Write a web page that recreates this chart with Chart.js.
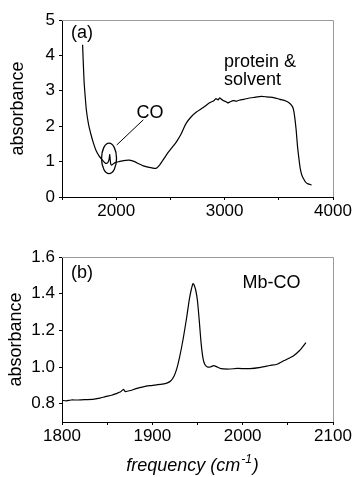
<!DOCTYPE html>
<html>
<head>
<meta charset="utf-8">
<script src="https://cdn.jsdelivr.net/npm/chart.js@4/dist/chart.umd.min.js"></script>
<style>
  html, body { margin: 0; padding: 0; background: #fff; }
  #wrap { position: relative; width: 355px; height: 477px; }
  canvas { position: absolute; left: 0; }
  #ca { top: 0; }
  #cb { top: 240px; }
</style>
</head>
<body>
<div id="wrap">
  <canvas id="ca" width="355" height="240"></canvas>
  <canvas id="cb" width="355" height="237"></canvas>
</div>
<script>
// ---------- Panel (a): full spectrum ----------
const freqA = [1690, 1695, 1704, 1715, 1725, 1745, 1766, 1790, 1812, 1840, 1873, 1895, 1910, 1925, 1935, 1940, 1945, 1950, 1958, 1966, 1990, 2028, 2070, 2120, 2170, 2213, 2250, 2275, 2320, 2368, 2400, 2429, 2470, 2521, 2560, 2599, 2620, 2645, 2690, 2740, 2800, 2861, 2900, 2920, 2940, 2954, 2970, 2990, 3010, 3030, 3046, 3080, 3110, 3139, 3180, 3220, 3262, 3300, 3340, 3386, 3420, 3460, 3509, 3550, 3580, 3602, 3620, 3633, 3645, 3660, 3672, 3685, 3698, 3712, 3727, 3745, 3770, 3803];
const absA  = [4.3, 3.9, 3.25, 2.8, 2.45, 2.05, 1.78, 1.52, 1.33, 1.17, 1.04, 0.97, 0.95, 0.98, 1.08, 1.2, 1.05, 0.93, 0.9, 0.92, 0.97, 1.0, 1.03, 1.04, 1.0, 0.93, 0.88, 0.86, 0.83, 0.81, 0.9, 1.03, 1.22, 1.42, 1.58, 1.78, 1.92, 2.08, 2.26, 2.4, 2.52, 2.66, 2.72, 2.78, 2.74, 2.8, 2.76, 2.72, 2.7, 2.66, 2.68, 2.72, 2.71, 2.74, 2.76, 2.79, 2.81, 2.83, 2.84, 2.83, 2.82, 2.8, 2.76, 2.73, 2.69, 2.64, 2.58, 2.5, 2.3, 1.9, 1.45, 1.1, 0.8, 0.62, 0.52, 0.43, 0.37, 0.34];
const xTicksA = [1500, 2000, 2500, 3000, 3500, 4000];
const xLabelsA = ['', '2000', '', '3000', '', '4000'];
const yTicksA = [0, 1, 2, 3, 4, 5];

// ---------- Panel (b): Mb-CO band ----------
const freqB = [1800, 1805, 1810, 1816, 1825, 1834, 1842, 1848, 1855, 1860, 1865, 1868, 1870, 1876, 1882, 1890, 1897, 1905, 1911, 1916, 1920, 1924, 1927, 1930, 1934, 1938, 1941, 1943, 1945, 1946, 1948, 1950, 1952, 1954, 1956, 1958, 1961, 1964, 1968, 1971, 1976, 1985, 1994, 2008, 2020, 2030, 2038, 2046, 2056, 2063, 2070];
const absB  = [0.818, 0.815, 0.82, 0.82, 0.822, 0.823, 0.83, 0.838, 0.846, 0.855, 0.865, 0.878, 0.866, 0.872, 0.882, 0.892, 0.898, 0.903, 0.907, 0.912, 0.922, 0.95, 0.99, 1.05, 1.15, 1.27, 1.37, 1.42, 1.455, 1.45, 1.42, 1.36, 1.25, 1.13, 1.05, 1.015, 1.0, 1.0, 1.008, 1.002, 0.991, 0.989, 0.992, 0.991, 0.998, 1.008, 1.015, 1.035, 1.06, 1.09, 1.133];
const xTicksB = [1800, 1850, 1900, 1950, 2000, 2050, 2100];
const xLabelsB = ['1800', '', '1900', '', '2000', '', '2100'];
const yTicksB = [0.8, 1.0, 1.2, 1.4, 1.6];

// ---------- Annotations (text in data coordinates) ----------
const notesA = [
  { text: '(a)', x: 1583, y: 4.62, align: 'left' },
  { text: 'protein &', x: 2995, y: 3.82, align: 'left' },
  { text: 'solvent', x: 2995, y: 3.31, align: 'left' },
  { text: 'CO', x: 2312, y: 2.37, align: 'center' }
];
const notesB = [
  { text: '(b)', x: 1810, y: 1.514, align: 'left' },
  { text: 'Mb-CO', x: 2032, y: 1.458, align: 'center' }
];
const coEllipse = { x: 1934, y: 1.09, rx: 69, ry: 0.43 };
const coPointer = { x1: 2005, y1: 1.47, x2: 2250, y2: 2.18 };
const xTitleParts = ['frequency (cm', '-1', ')'];

const FONT = "'Liberation Sans', Arial, Helvetica, sans-serif";

const deco = {
  id: 'deco',
  afterDatasetsDraw(chart, args, opts) {
    const { ctx, chartArea: a, scales: { x, y } } = chart;
    ctx.save();
    // light top/right frame
    ctx.strokeStyle = '#9a9a9a';
    ctx.lineWidth = 1;
    ctx.beginPath();
    ctx.moveTo(a.left, Math.round(a.top) + 0.5);
    ctx.lineTo(Math.round(a.right) + 0.5, Math.round(a.top) + 0.5);
    ctx.lineTo(Math.round(a.right) + 0.5, a.bottom);
    ctx.stroke();
    // texts
    ctx.fillStyle = '#000';
    ctx.font = '18px ' + FONT;
    ctx.textBaseline = 'middle';
    (opts.notes || []).forEach(n => {
      ctx.textAlign = n.align;
      ctx.fillText(n.text, x.getPixelForValue(n.x), y.getPixelForValue(n.y));
    });
    if (opts.ellipse) {
      const e = opts.ellipse;
      const cx = x.getPixelForValue(e.x), cy = y.getPixelForValue(e.y);
      const rx = Math.abs(x.getPixelForValue(e.x + e.rx) - cx);
      const ry = Math.abs(y.getPixelForValue(e.y + e.ry) - cy);
      ctx.strokeStyle = '#000';
      ctx.lineWidth = 1.3;
      ctx.beginPath();
      ctx.ellipse(cx, cy, rx, ry, 0, 0, Math.PI * 2);
      ctx.stroke();
    }
    if (opts.pointer) {
      const p = opts.pointer;
      ctx.strokeStyle = '#000';
      ctx.lineWidth = 1;
      ctx.beginPath();
      ctx.moveTo(x.getPixelForValue(p.x1), y.getPixelForValue(p.y1));
      ctx.lineTo(x.getPixelForValue(p.x2), y.getPixelForValue(p.y2));
      ctx.stroke();
    }
    if (opts.xTitle) {
      const [main, sup, tail] = opts.xTitle;
      const big = 'italic 18px ' + FONT, small = 'italic 12px ' + FONT;
      ctx.font = big; const w1 = ctx.measureText(main).width, w3 = ctx.measureText(tail).width;
      ctx.font = small; const w2 = ctx.measureText(sup).width;
      const total = w1 + w2 + 2 + w3;
      let cx = (a.left + a.right) / 2 - 5 - total / 2;
      const cy = x.bottom - 11;
      ctx.textAlign = 'left';
      ctx.textBaseline = 'middle';
      ctx.font = big; ctx.fillText(main, cx, cy); cx += w1 + 1;
      ctx.font = small; ctx.fillText(sup, cx, cy - 6); cx += w2 + 1;
      ctx.font = big; ctx.fillText(tail, cx, cy);
    }
    ctx.restore();
  }
};

function makeChart(id, freq, abs, cfg) {
  const pts = freq.map((f, i) => ({ x: f, y: abs[i] }));
  return new Chart(document.getElementById(id), {
    type: 'scatter',
    data: {
      datasets: [{
        data: pts,
        showLine: true,
        borderColor: '#000',
        borderWidth: 1.2,
        pointRadius: 0,
        tension: 0.2
      }]
    },
    options: {
      responsive: false,
      animation: false,
      devicePixelRatio: 1,
      layout: { padding: { left: 0, right: 22, top: cfg.top, bottom: 0 } },
      plugins: {
        legend: { display: false },
        tooltip: { enabled: false },
        deco: cfg.deco
      },
      scales: {
        x: {
          type: 'linear',
          min: cfg.xmin, max: cfg.xmax,
          afterBuildTicks: s => { s.ticks = cfg.xTicks.map(v => ({ value: v })); },
          afterFit: s => { s.height = cfg.xh; },
          ticks: {
            color: '#000',
            font: { family: FONT, size: 17 },
            padding: 1,
            maxRotation: 0,
            autoSkip: false,
            callback: (v, i) => cfg.xLabels[cfg.xTicks.indexOf(v)] ?? ''
          },
          grid: { drawOnChartArea: false, drawTicks: true, tickLength: 3, color: '#000' },
          border: { display: true, color: '#000', width: 1 },
          title: { display: false }
        },
        y: {
          type: 'linear',
          min: cfg.ymin, max: cfg.ymax,
          afterBuildTicks: s => { s.ticks = cfg.yTicks.map(v => ({ value: v })); },
          afterFit: s => { s.width = 62; },
          ticks: {
            color: '#000',
            font: { family: FONT, size: 17 },
            padding: 4,
            autoSkip: false,
            callback: v => cfg.yFmt(v)
          },
          grid: { drawOnChartArea: false, drawTicks: true, tickLength: 3, color: '#000' },
          border: { display: true, color: '#000', width: 1 },
          title: {
            display: true,
            text: 'absorbance',
            color: '#000',
            font: { family: FONT, size: 18 },
            padding: { top: cfg.ytPad, bottom: 0 }
          }
        }
      }
    },
    plugins: [deco]
  });
}

makeChart('ca', freqA, absA, {
  top: 20, xh: 43,
  xmin: 1500, xmax: 4000, ymin: 0, ymax: 5,
  xTicks: xTicksA, xLabels: xLabelsA, yTicks: yTicksA,
  yFmt: v => String(v),
  ytPad: 7,
  deco: { notes: notesA, ellipse: coEllipse, pointer: coPointer }
});

makeChart('cb', freqB, absB, {
  top: 17, xh: 55,
  xmin: 1800, xmax: 2100, ymin: 0.7, ymax: 1.6,
  xTicks: xTicksB, xLabels: xLabelsB, yTicks: yTicksB,
  yFmt: v => v.toFixed(1),
  ytPad: 5,
  deco: { notes: notesB, xTitle: xTitleParts }
});
</script>
</body>
</html>
